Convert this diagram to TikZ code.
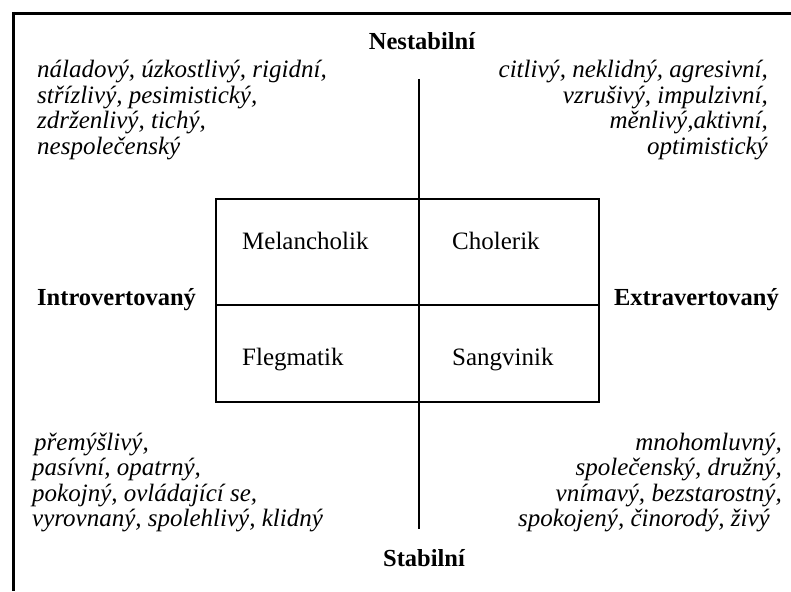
\documentclass[tikz,border=0pt]{standalone}
\usepackage{fontspec}
\setmainfont{Liberation Serif}
\begin{document}
\begin{tikzpicture}[x=1pt,y=-1pt,
  lbl/.style={inner sep=0pt, font=\fontsize{25}{25.5}\selectfont},
  axis/.style={inner sep=0pt, font=\fontsize{24.5}{25.5}\selectfont\bfseries},
  trait/.style={inner sep=0pt, font=\fontsize{25}{25.5}\selectfont\itshape},
  frame/.style={line width=3pt},
  boxline/.style={line width=1.5pt},
  axisline/.style={line width=2pt}]
\useasboundingbox (0,0) rectangle (791,591);
% frame
\draw[frame] (12,13.5) -- (791,13.5);
\draw[frame] (13.5,12) -- (13.5,591);
% box
\coordinate (tl) at (216,199);
\coordinate (br) at (599,402);
\coordinate (ml) at (216,305);
\coordinate (mr) at (599,305);
\coordinate (vt) at (419,79);
\coordinate (vb) at (419,529);
\draw[boxline] (tl) rectangle (br);
\draw[boxline] (ml) -- (mr);
\draw[axisline] (vt) -- (vb);
% box labels
\node[lbl, anchor=base west] (mel) at (242,249) {Melancholik};
\node[lbl, anchor=base west] (cho) at (452,249) {Cholerik};
\node[lbl, anchor=base west] (fle) at (242,365) {Flegmatik};
\node[lbl, anchor=base west] (san) at (452,365) {Sangvinik};
% axis labels
\node[axis, anchor=base] (nes) at (422,50) {Nestabilní};
\node[axis, anchor=base] (sta) at (424,566) {Stabilní};
\node[axis, anchor=base west] (intro) at (37,305) {Introvertovaný};
\node[axis, anchor=base east] (extra) at (779,305) {Extravertovaný};
% trait lists
\node[trait, anchor=base west] (tl1) at (37,77.5) {náladový, úzkostlivý, rigidní,};
\node[trait, anchor=base west] (tl2) at (37,103) {střízlivý, pesimistický,};
\node[trait, anchor=base west] (tl3) at (37,128.5) {zdrženlivý, tichý,};
\node[trait, anchor=base west] (tl4) at (37,154) {nespolečenský};
\node[trait, anchor=base east] (tr1) at (768,77.5) {citlivý, neklidný, agresivní,};
\node[trait, anchor=base east] (tr2) at (768,103) {vzrušivý, impulzivní,};
\node[trait, anchor=base east] (tr3) at (768,128.5) {měnlivý,aktivní,};
\node[trait, anchor=base east] (tr4) at (768,154) {optimistický};
\node[trait, anchor=base west] (bl1) at (34,450) {přemýšlivý,};
\node[trait, anchor=base west] (bl2) at (32,475.5) {pasívní, opatrný,};
\node[trait, anchor=base west] (bl3) at (32,501) {pokojný, ovládající se,};
\node[trait, anchor=base west] (bl4) at (32,526.5) {vyrovnaný, spolehlivý, klidný};
\node[trait, anchor=base east] (br1) at (782,450) {mnohomluvný,};
\node[trait, anchor=base east] (br2) at (782,475.5) {společenský, družný,};
\node[trait, anchor=base east] (br3) at (782,501) {vnímavý, bezstarostný,};
\node[trait, anchor=base east] (br4) at (770,526.5) {spokojený, činorodý, živý};
\end{tikzpicture}
\end{document}
